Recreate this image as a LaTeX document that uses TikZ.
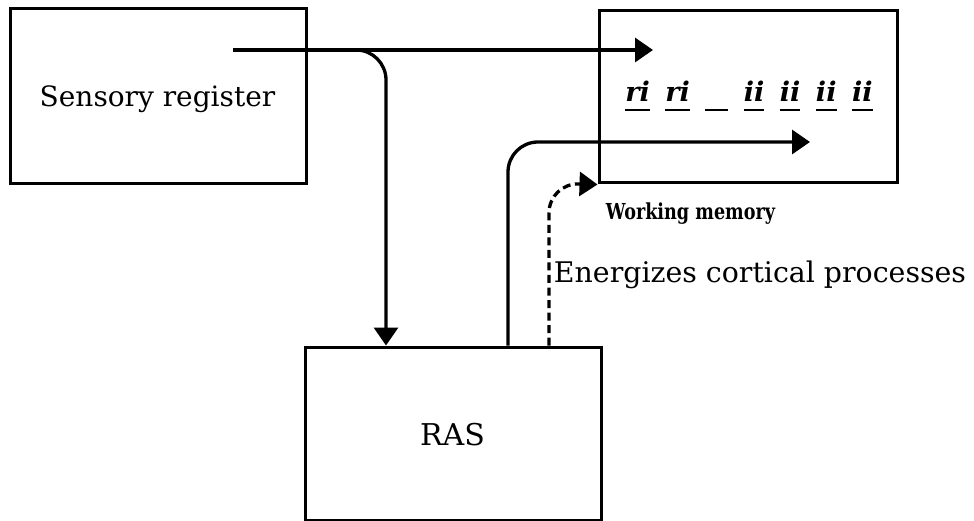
\documentclass[tikz,border=0pt]{standalone}
\usepackage{fontspec}
\setmainfont{DejaVu Serif}
\usetikzlibrary{arrows.meta}
\newcommand\ulword[1]{\setbox0\hbox{#1}\rlap{\rule[-9pt]{\wd0}{2.2pt}}\box0}
\begin{document}
\begin{tikzpicture}[x=1pt,y=-1pt,
  box/.style={draw,line width=3pt,inner sep=0pt},
  conn/.style={line width=3.3pt,-{Triangle[length=18pt,width=24pt]}},
  lbl/.style={inner sep=0pt,anchor=base}]
\useasboundingbox (0,0) rectangle (974,521);
\node[box,minimum width=296pt,minimum height=175pt] (sr) at (158,96.5) {};
\node[box,minimum width=298pt,minimum height=172pt] (wm) at (748,97) {};
\node[box,minimum width=296pt,minimum height=173pt] (ras) at (453,433.5) {};
\node[lbl,font=\fontsize{28}{32}\selectfont] (srt) at (157.5,107) {Sensory register};
\node[lbl,font=\fontsize{30}{34}\selectfont] (rast) at (452.5,445) {RAS};
\node[lbl,font=\fontsize{22}{26}\selectfont\bfseries] (wmt) at (690.5,220) {\scalebox{0.8}[1]{Working memory}};
\node[lbl,font=\fontsize{28.4}{32}\selectfont] (ent) at (760,283) {Energizes cortical processes};
\node[lbl,font=\fontsize{27}{30}\selectfont\bfseries\itshape] (seq) at (749,102)
  {\ulword{ri}\hspace{15.5pt}\ulword{ri}\hspace{15.5pt}\ulword{\hspace{23pt}}\hspace{15.5pt}\ulword{ii}\hspace{15.5pt}\ulword{ii}\hspace{15.5pt}\ulword{ii}\hspace{15.5pt}\ulword{ii}};
\coordinate (s1) at (233,50);
\draw[conn] (s1) -- (653,50);
\draw[conn,rounded corners=30pt] (340,50) -- (386,50) -- (386,50 |- ras.north);
\draw[conn,rounded corners=30pt] (508,50 |- ras.north) -- (508,142) -- (810,142);
\draw[conn,dash pattern=on 8pt off 4.5pt,rounded corners=30pt] (549,50 |- ras.north) -- (549,183) -- (wm.south west);
\end{tikzpicture}
\end{document}
